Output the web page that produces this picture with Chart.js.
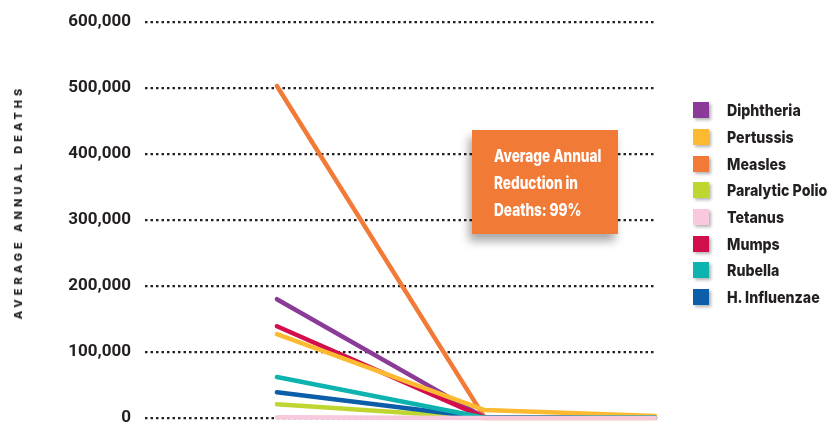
<!DOCTYPE html>
<html>
<head>
<meta charset="utf-8">
<script src="https://cdn.jsdelivr.net/npm/chart.js@4.4.1/dist/chart.umd.min.js"></script>
<style>
  html, body { margin: 0; padding: 0; background: #fff; }
  #wrap { position: relative; width: 828px; height: 426px; overflow: hidden;
          font-family: Inter, Roboto, 'Liberation Sans', sans-serif; color: #231f20; }
  #chart { position: absolute; left: 0; top: 0; }
  #ytitle { position: absolute; left: 18px; top: 202px; transform: translate(-50%, -50%) rotate(-90deg);
            white-space: nowrap; font-weight: 800; font-size: 11px; letter-spacing: 4px; }
  #legend { position: absolute; left: 693px; top: 97px; }
  .item { height: 26.7px; display: flex; align-items: center; white-space: nowrap; }
  .box { width: 16px; height: 16px; margin-right: 18px; flex: none; box-shadow: 2px 2px 3px rgba(0,0,0,0.3); }
  .lbl { font-weight: 800; font-size: 16.5px; display: inline-block; transform: scaleX(0.86); transform-origin: left center; }
  #callout { position: absolute; left: 472px; top: 130px; width: 146px; height: 104px; background: #f27a37;
             box-shadow: -3px 7px 9px rgba(0,0,0,0.35); color: #fff; font-weight: 800; font-size: 17px;
             line-height: 27px; box-sizing: border-box; padding: 13px 0 0 22px; white-space: nowrap; }
  #callout span { display: inline-block; transform: scaleX(0.8); transform-origin: left center; }
</style>
</head>
<body>
<div id="wrap">
  <canvas id="chart" width="828" height="426"></canvas>
  <div id="ytitle">AVERAGE ANNUAL DEATHS</div>
  <div id="legend"></div>
  <div id="callout"><span>Average Annual<br>Reduction in<br>Deaths: 99%</span></div>
</div>
<script>
// x positions of the three periods (pre-vaccine, post-vaccine, latest)
const periods = [0, 1, 1.82];

const diseases = ['Diphtheria', 'Pertussis', 'Measles', 'Paralytic Polio', 'Tetanus', 'Mumps', 'Rubella', 'H. Influenzae'];
const colors = ['#8a3b97', '#fdb92f', '#f27a37', '#bfd630', '#f8c8dc', '#d20f4a', '#0db3ae', '#0c5ea8'];

const diphtheria = [180000, 500, 300];
const pertussis = [127000, 12000, 3000];
const measles = [503000, 500, 300];
const polio = [21000, 0, 0];
const tetanus = [1000, 0, 0];
const mumps = [139000, 500, 300];
const rubella = [62000, 500, 300];
const hib = [39000, 500, 300];

const series = [diphtheria, pertussis, measles, polio, tetanus, mumps, rubella, hib];
const yTicks = [0, 100000, 200000, 300000, 400000, 500000, 600000];

// draw order: tetanus underneath, polio on top
const order = [4, 6, 7, 1, 5, 0, 2, 3];

const datasets = order.map(i => ({
    label: diseases[i],
    data: series[i].map((v, k) => ({ x: periods[k], y: v })),
    borderColor: colors[i],
    backgroundColor: colors[i],
    borderWidth: 4.5,
    pointRadius: 0,
    tension: 0,
    borderCapStyle: 'round',
    borderJoinStyle: 'round',
    clip: false
}));

let legendHtml = '';
diseases.forEach((d, i) => {
    legendHtml += '<div class="item"><div class="box" style="background:' + colors[i] + '"></div><div class="lbl">' + d + '</div></div>';
});
document.getElementById('legend').innerHTML = legendHtml;

const ctx = document.getElementById('chart').getContext('2d');
new Chart(ctx, {
    type: 'line',
    data: { datasets: datasets },
    options: {
        responsive: false,
        animation: false,
        layout: { padding: { top: 22, right: 173, bottom: 8, left: 0 } },
        plugins: { legend: { display: false }, tooltip: { enabled: false } },
        scales: {
            x: {
                type: 'linear',
                min: -0.635,
                max: 1.82,
                display: false
            },
            y: {
                min: 0,
                max: 600000,
                afterFit: (scale) => {
                    scale.width = 145;
                    scale.paddingTop = 0;
                    scale.paddingBottom = 0;
                },
                afterBuildTicks: (scale) => { scale.ticks = yTicks.map(v => ({ value: v })); },
                border: { display: false, dash: [2.5, 3] },
                grid: {
                    color: '#231f20',
                    lineWidth: 2.2,
                    drawTicks: false
                },
                ticks: {
                    padding: 14,
                    color: '#231f20',
                    font: { family: "Roboto, 'Liberation Sans', sans-serif", size: 17, weight: 'bold' },
                    callback: (v) => v.toLocaleString('en-US')
                }
            }
        }
    }
});
</script>
</body>
</html>
